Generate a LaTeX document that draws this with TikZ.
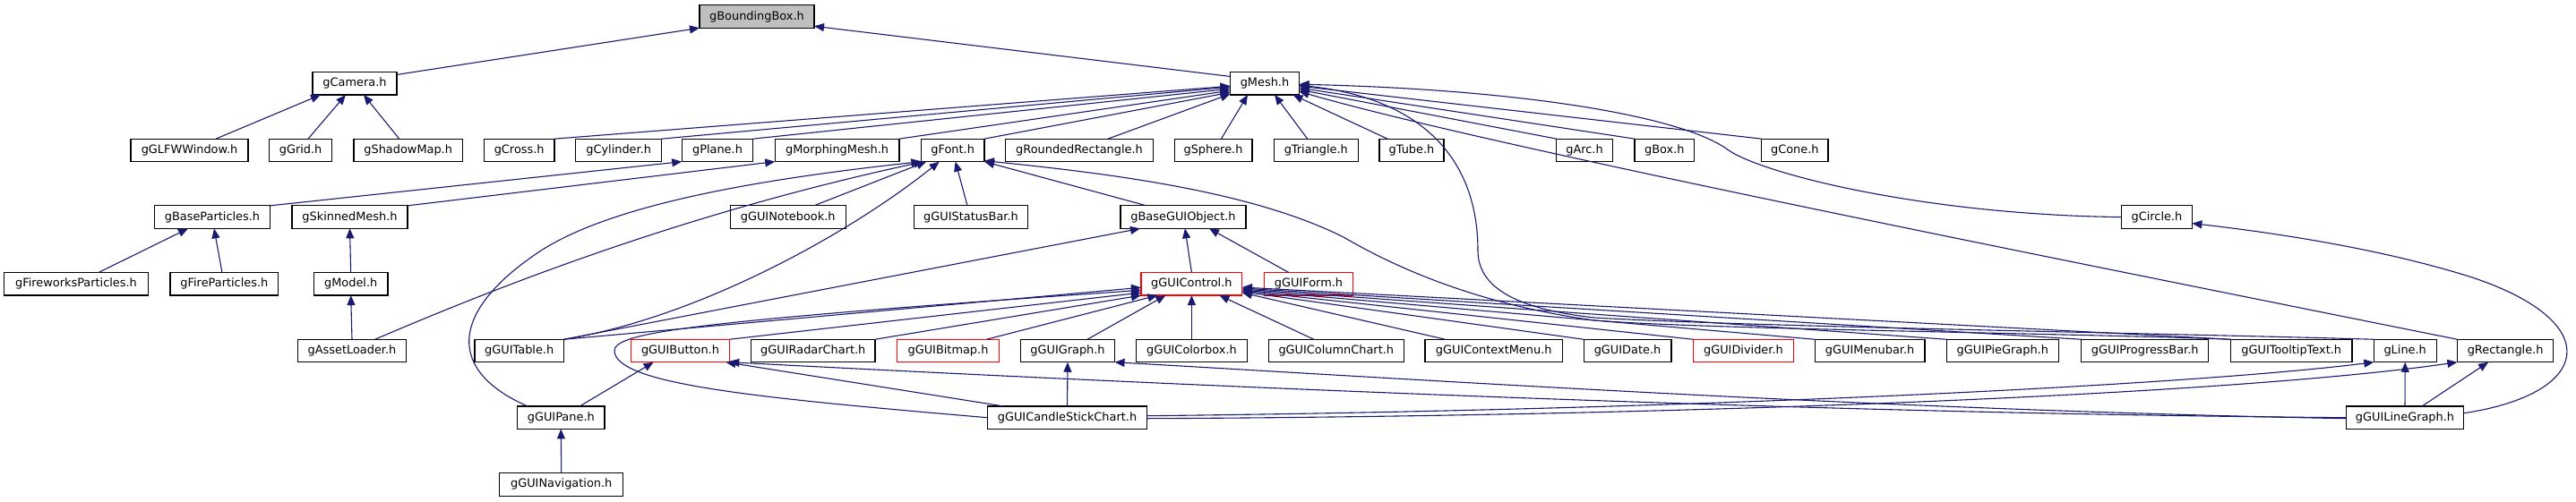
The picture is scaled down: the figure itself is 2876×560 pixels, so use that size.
\documentclass[tikz,border=0pt]{standalone}
\usepackage{fontspec}
\setmainfont{DejaVu Sans}
\usetikzlibrary{arrows.meta,calc}
\definecolor{mblue}{RGB}{25,25,112}
\definecolor{bbgray}{RGB}{191,191,191}
\definecolor{trunc}{RGB}{255,0,0}
\begin{document}
\begin{tikzpicture}[x=1pt,y=-1pt,
  box/.style={draw=black,line width=1.2pt,minimum height=25.5pt,inner sep=0pt,outer sep=0pt,
    font=\fontsize{12.9}{15}\selectfont,fill=white},
  redbox/.style={box,draw=trunc},
  edge/.style={draw=mblue,line width=1.1pt,-{Triangle[length=11pt,width=9pt]}}]
\useasboundingbox (0,0) rectangle (2876,560);
% row 0
\node[box,fill=bbgray,minimum width=128pt] (bb) at (845,18.5) {gBoundingBox.h};
% row 1
\node[box,minimum width=94pt] (cam) at (396,93.2) {gCamera.h};
\node[box,minimum width=77pt] (mesh) at (1412,93.2) {gMesh.h};
% row 2
\node[box,minimum width=131pt] (glfw) at (211.5,167.9) {gGLFWWindow.h};
\node[box,minimum width=70pt] (grid) at (335.6,167.9) {gGrid.h};
\node[box,minimum width=121.6pt] (shadow) at (455.7,167.9) {gShadowMap.h};
\node[box,minimum width=78.5pt] (cross) at (579.7,167.9) {gCross.h};
\node[box,minimum width=96pt] (cyl) at (690.7,167.9) {gCylinder.h};
\node[box,minimum width=79.5pt] (plane) at (801,167.9) {gPlane.h};
\node[box,minimum width=138.7pt] (morph) at (934.6,167.9) {gMorphingMesh.h};
\node[box,minimum width=70.7pt] (font) at (1063.7,167.9) {gFont.h};
\node[box,minimum width=164.4pt] (rrect) at (1205,167.9) {gRoundedRectangle.h};
\node[box,minimum width=86.8pt] (sphere) at (1354.5,167.9) {gSphere.h};
\node[box,minimum width=93.7pt] (tri) at (1469.3,167.9) {gTriangle.h};
\node[box,minimum width=72pt] (tube) at (1576,167.9) {gTube.h};
\node[box,minimum width=62.4pt] (arc) at (1769,167.9) {gArc.h};
\node[box,minimum width=66.6pt] (boxh) at (1858.3,167.9) {gBox.h};
\node[box,minimum width=74.4pt] (cone) at (2003.8,167.9) {gCone.h};
% row 3
\node[box,minimum width=129pt] (bparts) at (237,242.6) {gBaseParticles.h};
\node[box,minimum width=129pt] (skinned) at (390.5,242.6) {gSkinnedMesh.h};
\node[box,minimum width=129pt] (notebook) at (879.7,242.6) {gGUINotebook.h};
\node[box,minimum width=127.6pt] (status) at (1084,242.6) {gGUIStatusBar.h};
\node[box,minimum width=140pt] (bgui) at (1321,242.6) {gBaseGUIObject.h};
\node[box,minimum width=78.7pt] (circle) at (2408,242.6) {gCircle.h};
% row 4
\node[box,minimum width=160.7pt] (fireworks) at (85,317.3) {gFireworksParticles.h};
\node[box,minimum width=120.8pt] (fire) at (250.4,317.3) {gFireParticles.h};
\node[box,minimum width=82.6pt] (model) at (391.7,317.3) {gModel.h};
\node[redbox,minimum width=112.9pt] (control) at (1330.4,317.3) {gGUIControl.h};
\node[redbox,minimum width=99.2pt] (form) at (1461,317.3) {gGUIForm.h};
% row 5
\node[box,minimum width=121pt] (loader) at (393,392) {gAssetLoader.h};
\node[box,minimum width=99.6pt] (table) at (579.7,392) {gGUITable.h};
\node[redbox,minimum width=109.7pt] (button) at (759.5,392) {gGUIButton.h};
\node[box,minimum width=138.2pt] (radar) at (907.8,392) {gGUIRadarChart.h};
\node[redbox,minimum width=113.9pt] (bitmap) at (1058.5,392) {gGUIBitmap.h};
\node[box,minimum width=105.1pt] (graph) at (1192,392) {gGUIGraph.h};
\node[box,minimum width=124pt] (colorbox) at (1330.4,392) {gGUIColorbox.h};
\node[box,minimum width=150.6pt] (column) at (1491.8,392) {gGUIColumnChart.h};
\node[box,minimum width=153.4pt] (context) at (1667.7,392) {gGUIContextMenu.h};
\node[box,minimum width=97.8pt] (date) at (1817,392) {gGUIDate.h};
\node[redbox,minimum width=112pt] (divider) at (1946.4,392) {gGUIDivider.h};
\node[box,minimum width=122.7pt] (menubar) at (2087.6,392) {gGUIMenubar.h};
\node[box,minimum width=125.2pt] (pie) at (2235.8,392) {gGUIPieGraph.h};
\node[box,minimum width=142pt] (progress) at (2394.7,392) {gGUIProgressBar.h};
\node[box,minimum width=135.6pt] (tooltip) at (2558.2,392) {gGUITooltipText.h};
\node[box,minimum width=69.8pt] (line) at (2685.2,392) {gLine.h};
\node[box,minimum width=107.4pt] (rect) at (2797.1,392) {gRectangle.h};
% row 6
\node[box,minimum width=97.3pt] (pane) at (626.3,466.7) {gGUIPane.h};
\node[box,minimum width=178.6pt] (candle) at (1191.5,466.7) {gGUICandleStickChart.h};
\node[box,minimum width=131.7pt] (linegraph) at (2685,466.7) {gGUILineGraph.h};
% row 7
\node[box,minimum width=137.7pt] (nav) at (626.7,541.4) {gGUINavigation.h};

% ---- edges to gBoundingBox
\draw[edge] ($(cam.north east)+(0,3)$) -- (bb.south west);
\draw[edge] ($(mesh.north west)+(0,5)$) -- ($(bb.south east)+(0,-2)$);
% ---- edges to gCamera
\draw[edge] ($(glfw.north)+(29.5,0)$) -- ($(cam.south)+(-38,0)$);
\draw[edge] ($(grid.north)+(8.4,0)$) -- ($(cam.south)+(-10,0)$);
\draw[edge] ($(shadow.north)+(-10,0)$) -- ($(cam.south)+(10,0)$);
% ---- edges to gMesh
\draw[edge] (cross.north east) -- ($(mesh.west)+(0,3)$);
\draw[edge] (cyl.north east) -- ($(mesh.west)+(0,4)$);
\draw[edge] (plane.north east) -- ($(mesh.west)+(0,6)$);
\draw[edge] (morph.north east) -- ($(mesh.west)+(0,8)$);
\draw[edge] (font.north east) -- ($(mesh.west)+(0,10)$);
\draw[edge] ($(rrect.north)+(32,0)$) -- ($(mesh.south west)+(0,-1)$);
\draw[edge] ($(sphere.north)+(9,0)$) -- ($(mesh.south)+(-19,0)$);
\draw[edge] ($(tri.north)+(-9.6,0)$) -- ($(mesh.south)+(11,0)$);
\draw[edge] ($(tube.north)+(-27,0)$) -- ($(mesh.south east)+(-7,0)$);
\draw[edge] (arc.north west) -- ($(mesh.east)+(0,7)$);
\draw[edge] (boxh.north west) -- ($(mesh.east)+(0,5)$);
\draw[edge] (cone.north west) -- ($(mesh.east)+(0,3)$);
\draw[edge] (circle.west) .. controls (2150,240) and (1970,195) .. (1930,168)
   .. controls (1880,130) and (1700,100) .. ($(mesh.east)+(0,1)$);
\draw[edge] (rect.north west) .. controls (2200,270) and (1650,160) .. ($(mesh.east)+(0,9)$);
\draw[edge] (line.north west) .. controls (2400,372) and (1950,365) .. (1780,355)
   .. controls (1690,345) and (1650,320) .. (1650,280)
   .. controls (1650,180) and (1590,110) .. ($(mesh.east)+(0,2)$);
% ---- particles / meshes
\draw[edge] (bparts.north east) -- (plane.south west);
\draw[edge] (skinned.north east) -- (morph.south west);
\draw[edge] ($(fireworks.north)+(25,0)$) -- ($(bparts.south)+(-27,0)$);
\draw[edge] ($(fire.north)+(-2.4,0)$) -- ($(bparts.south)+(2,0)$);
\draw[edge] (model.north) -- (skinned.south);
\draw[edge] (loader.north) -- (model.south);
% ---- edges to gFont
\draw[edge] ($(pane.north west)+(11.4,0)$) .. controls (500,415) and (500,350) .. (601,282)
   .. controls (682,228) and (850,200) .. (font.south west);
\draw[edge] ($(loader.north)+(25.7,0)$) .. controls (580,310) and (780,235) .. ($(font.south west)+(3,0)$);
\draw[edge] ($(notebook.north)+(29,0)$) -- ($(font.south west)+(6,0)$);
\draw[edge] (table.north east) .. controls (780,355) and (950,260) .. ($(font.south)+(-15,0)$);
\draw[edge] ($(status.north)+(-4,0)$) -- ($(font.south)+(3,0)$);
\draw[edge] ($(bgui.north)+(-41,0)$) -- (font.south east);
\draw[edge] (tooltip.north west) .. controls (2300,372) and (1900,368) .. (1780,358)
   .. controls (1650,340) and (1560,300) .. (1500,265)
   .. controls (1400,215) and (1250,195) .. ($(font.south east)+(0,-1)$);
% ---- edges to gBaseGUIObject
\draw[edge] (control.north) -- ($(bgui.south)+(2,0)$);
\draw[edge] (table.north east) -- ($(bgui.south west)+(22,0)$);
\draw[edge] ($(form.north west)+(27.5,0)$) -- ($(bgui.south)+(29,0)$);
% ---- edges to gGUIControl
\draw[edge] (table.north east) -- ($(control.west)+(0,4)$);
\draw[edge] (button.north east) -- ($(control.south west)+(0,-3)$);
\draw[edge] (candle.west) .. controls (850,445) and (690,430) .. (686,393)
   .. controls (684,372) and (760,360) .. ($(control.west)+(0,7)$);
\draw[edge] (radar.north east) -- (control.south west);
\draw[edge] ($(bitmap.north)+(43,0)$) -- ($(control.south)+(-38,0)$);
\draw[edge] ($(graph.north)+(22,0)$) -- ($(control.south)+(-29,0)$);
\draw[edge] (colorbox.north) -- (control.south);
\draw[edge] ($(column.north)+(-25,0)$) -- ($(control.south)+(31,0)$);
\draw[edge] ($(context.north west)+(22.5,0)$) -- ($(control.south east)+(0,-3)$);
\draw[edge] (date.north west) -- ($(control.south east)+(0,-4)$);
\draw[edge] (divider.north west) -- ($(control.south east)+(0,-5)$);
\draw[edge] (menubar.north west) -- ($(control.south east)+(0,-6)$);
\draw[edge] (pie.north west) -- ($(control.south east)+(0,-7)$);
\draw[edge] (progress.north west) -- ($(control.south east)+(0,-8)$);
\draw[edge] (tooltip.north west) -- ($(control.south east)+(0,-9)$);
% ---- lower part
\draw[edge] ($(pane.north)+(21,0)$) -- ($(button.south west)+(25,0)$);
\draw[edge] (nav.north) -- (pane.south);
\draw[edge] ($(candle.north west)+(18,0)$) -- ($(button.south east)+(-4,0)$);
\draw[edge] (linegraph.west) .. controls (2000,462) and (1300,430) .. (button.south east);
\draw[edge] ($(linegraph.west)+(0,1)$) .. controls (2100,458) and (1600,425) .. (graph.south east);
\draw[edge] (candle.north) -- (graph.south);
\draw[edge] ($(candle.east)+(0,-2)$) .. controls (1900,458) and (2450,430) .. (line.south west);
\draw[edge] ($(candle.east)+(0,1)$) .. controls (1900,465) and (2500,440) .. (rect.south west);
\draw[edge] (linegraph.north) -- (line.south);
\draw[edge] ($(linegraph.north)+(19,0)$) -- ($(rect.south)+(-19,0)$);
\draw[edge] ($(linegraph.east)+(0,-5)$) .. controls (2895,440) and (2910,360) .. (2760,310)
   .. controls (2650,275) and (2520,258) .. ($(circle.east)+(0,7)$);
\end{tikzpicture}
\end{document}
